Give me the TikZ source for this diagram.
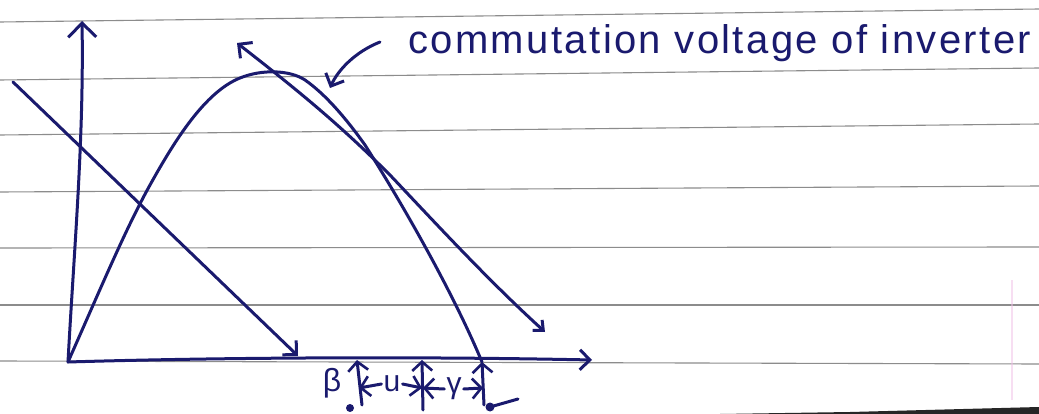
\documentclass[tikz,border=0pt]{standalone}
\usepackage{fontspec}
\setmainfont{Liberation Sans}
\usetikzlibrary{arrows.meta}
\definecolor{ink}{RGB}{26,26,110}
\definecolor{rule}{RGB}{140,140,140}
\definecolor{margin}{RGB}{240,190,230}
\tikzset{
  ruled/.style={rule, line width=1.1pt},
  pen/.style={ink, line width=3pt, line cap=round, line join=round},
  bigtip/.style={-{Straight Barb[length=14pt,width=28pt,line width=3pt]}},
  midtip/.style={-{Straight Barb[length=10pt,width=20pt,line width=3pt]}},
  smalltip/.style={-{Straight Barb[length=9pt,width=20pt,line width=2.6pt]}},
  hand/.style={ink, inner sep=0pt},
}
\begin{document}
\begin{tikzpicture}[x=1pt,y=-1pt]
\useasboundingbox (0,0) rectangle (1039,414);
\fill[white] (0,0) rectangle (1039,414);
% ruled paper
\draw[ruled] (0,22) -- (1039,9);
\draw[ruled] (0,80) -- (1039,68);
\draw[ruled] (0,135) -- (1039,124);
\draw[ruled] (0,192) -- (1039,186);
\draw[ruled] (0,248) -- (1039,247);
\draw[ruled] (0,305) -- (1039,305);
\draw[ruled] (0,361) -- (1039,364);
\draw[margin, line width=1.5pt, opacity=0.5] (1012,280) -- (1012,400);
\fill[black!85] (720,414) -- (850,412) -- (1039,407) -- (1039,414) -- cycle;

% key points
\coordinate (O) at (68,362);
\coordinate (ytip) at (82,21);
\coordinate (xtip) at (592,360);
\coordinate (aS) at (13,82);
\coordinate (aE) at (298,356);
\coordinate (bS) at (237,43);
\coordinate (bE) at (545,332);
\coordinate (t1) at (357,360);
\coordinate (t1b) at (362,405);
\coordinate (t2) at (422,360);
\coordinate (t2b) at (423,410);
\coordinate (t3) at (482,362);
\coordinate (t3b) at (484,405);

% axes
\draw[pen, bigtip] (O) .. controls (74,250) and (84,140) .. (ytip);
\draw[pen, midtip] (O) .. controls (200,358) and (400,356) .. (xtip);

% sine-like commutation curve
\draw[pen] (O) .. controls (100,290) and (125,230) .. (150,185)
  .. controls (175,140) and (205,92) .. (240,78)
  .. controls (262,69) and (290,70) .. (305,80)
  .. controls (325,94) and (345,117) .. (365,145)
  .. controls (400,200) and (452,290) .. (482,362);

% straight line 1
\draw[pen, midtip] (aS) -- (aE);

% line 2 (arrow at its upper end)
\draw[pen, {Straight Barb[length=10pt,width=20pt,line width=3pt]}-{Straight Barb[length=8pt,width=14pt,line width=3pt]}]
  (bS) .. controls (300,92) and (340,125) .. (390,175)
  .. controls (440,228) and (490,282) .. (bE);

% label and its arrow
\node[hand, anchor=base west, font=\fontsize{40}{44}\selectfont\addfontfeature{LetterSpace=6}]
  (lbl) at (408,54) {commutation voltage of inverter};
\coordinate (pS) at (380,42);
\coordinate (pE) at (330,88);
\draw[pen, midtip] (pS) .. controls (355,52) and (338,70) .. (pE);

% angle markers under the axis
\draw[pen, smalltip] (t1b) -- (t1);
\draw[pen, smalltip] (t2b) -- (t2);
\draw[pen, smalltip] (t3b) -- (t3);
\node[hand, font=\fontsize{32}{34}\selectfont] (beta) at (332,383) {β};
\node[hand, font=\fontsize{30}{32}\selectfont] (u) at (392,384) {u};
\node[hand, font=\fontsize{30}{32}\selectfont] (gam) at (454,389) {γ};
\coordinate (h1) at (359,388);
\coordinate (h2l) at (422,388);
\coordinate (h2r) at (423,388);
\coordinate (h3) at (483,388);
\draw[pen, smalltip] (u.west) ++(-2,0) -- (h1);
\draw[pen, smalltip] (u.east) ++(2,0) -- (h2l);
\draw[pen, smalltip] (gam.west) ++(-2,0) -- (h2r);
\draw[pen, smalltip] (gam.east) ++(2,0) -- (h3);
\fill[ink] (350,408) circle (4);
\fill[ink] (490,407) circle (4.5);
\draw[pen] (490,407) -- (518,399);
\end{tikzpicture}
\end{document}
